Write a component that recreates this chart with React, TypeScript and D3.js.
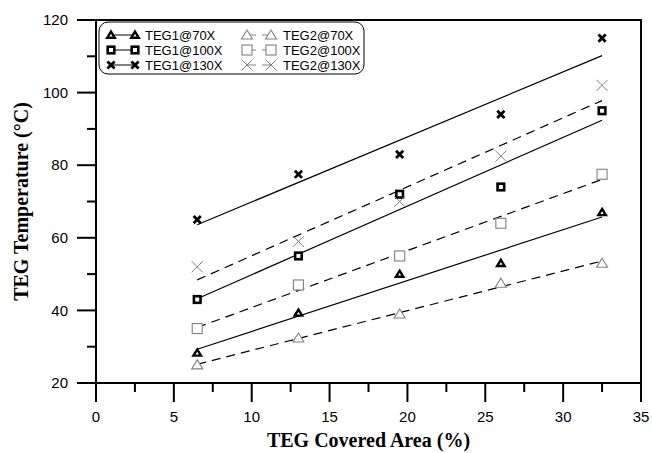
import React from 'react'
import * as d3 from 'd3'

// covered area (%)
const area = [6.5, 13, 19.5, 26, 32.5]

// TEG temperatures (°C)
const teg1_70 = [28.3, 39.3, 50, 53, 67]
const teg1_100 = [43, 55, 72, 74, 95]
const teg1_130 = [65, 77.5, 83, 94, 115]
const teg2_70 = [25, 32.4, 39, 47.5, 53]
const teg2_100 = [35, 47, 55, 64, 77.5]
const teg2_130 = [52, 59, 70, 82.5, 102]

const xTicks = [0, 5, 10, 15, 20, 25, 30, 35]
const yTicks = [20, 40, 60, 80, 100, 120]

const series = [
  { name: 'TEG1@70X', values: teg1_70, shape: 'tri', teg: 1 },
  { name: 'TEG1@100X', values: teg1_100, shape: 'sq', teg: 1 },
  { name: 'TEG1@130X', values: teg1_130, shape: 'x', teg: 1 },
  { name: 'TEG2@70X', values: teg2_70, shape: 'tri', teg: 2 },
  { name: 'TEG2@100X', values: teg2_100, shape: 'sq', teg: 2 },
  { name: 'TEG2@130X', values: teg2_130, shape: 'x', teg: 2 },
]

const W = 652
const H = 453
const m = { left: 96, right: 11, top: 20, bottom: 70 }

// least squares fit, used for the trend lines
function fit(xs, ys) {
  const mx = d3.mean(xs), my = d3.mean(ys)
  let num = 0, den = 0
  xs.forEach((x, i) => { num += (x - mx) * (ys[i] - my); den += (x - mx) * (x - mx) })
  const b = num / den
  return (x) => my + b * (x - mx)
}

function Marker({ shape, teg, cx, cy }) {
  const bold = teg === 1
  const stroke = bold ? '#000' : '#808080'
  const sw = bold ? 2.4 : 1.1
  if (shape === 'tri') {
    const s = bold ? 3.4 : 5
    return <path d={`M${cx},${cy - s}L${cx + s * 1.1},${cy + s * 0.8}L${cx - s * 1.1},${cy + s * 0.8}Z`}
      fill="#fff" stroke={stroke} strokeWidth={sw} strokeLinejoin="miter" />
  }
  if (shape === 'sq') {
    const s = bold ? 3.3 : 5
    return <rect x={cx - s} y={cy - s} width={s * 2} height={s * 2} fill="#fff" stroke={stroke} strokeWidth={bold ? 2.6 : 1.1} />
  }
  const s = bold ? 3.6 : 5.5
  return <path d={`M${cx - s},${cy - s}L${cx + s},${cy + s}M${cx - s},${cy + s}L${cx + s},${cy - s}`}
    stroke={stroke} strokeWidth={bold ? 2.8 : 1} fill="none" />
}

export default function App() {
  const x = d3.scaleLinear().domain([0, 35]).range([m.left, W - m.right])
  const y = d3.scaleLinear().domain([20, 120]).range([H - m.bottom, m.top])
  const minorX = d3.range(2.5, 35, 5)
  const minorY = d3.range(30, 120, 20)
  const x0 = d3.min(area), x1 = d3.max(area)

  return (
    <svg width={W} height={H} style={{ position: 'absolute', left: 0, top: 0, background: '#fff' }}
      fontFamily="Arial, 'Liberation Sans', sans-serif">
      <rect width={W} height={H} fill="#fff" />

      {/* trend lines */}
      {series.map((s) => {
        const f = fit(area, s.values)
        const line = d3.line().x((d) => x(d)).y((d) => y(f(d)))
        return <path key={'l' + s.name} d={line([x0, x1])} fill="none" stroke="#000" strokeWidth={1.2}
          strokeDasharray={s.teg === 2 ? '9,6' : null} />
      })}

      {/* points */}
      {series.map((s) => s.values.map((v, i) => (
        <Marker key={s.name + i} shape={s.shape} teg={s.teg} cx={x(area[i])} cy={y(v)} />
      )))}

      {/* frame */}
      <rect x={x(0)} y={y(120)} width={x(35) - x(0)} height={y(20) - y(120)} fill="none" stroke="#000" strokeWidth={2} />

      {/* x axis */}
      {xTicks.map((t) => (
        <g key={'xt' + t}>
          <line x1={x(t)} x2={x(t)} y1={y(20)} y2={y(20) + 19} stroke="#000" strokeWidth={2} />
          <text x={x(t)} y={y(20) + 39} textAnchor="middle" fontSize={15}>{t}</text>
        </g>
      ))}
      {minorX.map((t) => (
        <line key={'xm' + t} x1={x(t)} x2={x(t)} y1={y(20)} y2={y(20) + 9} stroke="#000" strokeWidth={2} />
      ))}

      {/* y axis */}
      {yTicks.map((t) => (
        <g key={'yt' + t}>
          <line x1={x(0) - 19} x2={x(0)} y1={y(t)} y2={y(t)} stroke="#000" strokeWidth={2} />
          <text x={x(0) - 28} y={y(t)} dy="0.35em" textAnchor="end" fontSize={15}>{t}</text>
        </g>
      ))}
      {minorY.map((t) => (
        <line key={'ym' + t} x1={x(0) - 9} x2={x(0)} y1={y(t)} y2={y(t)} stroke="#000" strokeWidth={2} />
      ))}

      {/* axis titles */}
      <text x={(x(0) + x(35)) / 2} y={447} textAnchor="middle" fontFamily="'Liberation Serif', 'Times New Roman', serif"
        fontWeight="bold" fontSize={20}>TEG Covered Area (%)</text>
      <text transform={`translate(28,${(y(20) + y(120)) / 2}) rotate(-90)`} textAnchor="middle"
        fontFamily="'Liberation Serif', 'Times New Roman', serif" fontWeight="bold" fontSize={20}>TEG Temperature (°C)</text>

      {/* legend */}
      <rect x={99} y={22} width={265} height={52} rx={9} fill="#fff" stroke="#000" strokeWidth={1} />
      {series.map((s, i) => {
        const col = s.teg === 1 ? 0 : 1
        const row = i % 3
        const lx = col === 0 ? 111 : 247
        const ly = 35 + row * 15
        return (
          <g key={'lg' + s.name}>
            <line x1={lx} x2={lx + 24} y1={ly} y2={ly} stroke={s.teg === 1 ? '#000' : '#808080'} strokeWidth={1}
              strokeDasharray={s.teg === 2 ? '9,6' : null} />
            <Marker shape={s.shape} teg={s.teg} cx={lx} cy={ly} />
            <Marker shape={s.shape} teg={s.teg} cx={lx + 24} cy={ly} />
            <text x={col === 0 ? 145 : 283} y={ly} dy="0.36em" fontSize={13}>{s.name}</text>
          </g>
        )
      })}
    </svg>
  )
}
